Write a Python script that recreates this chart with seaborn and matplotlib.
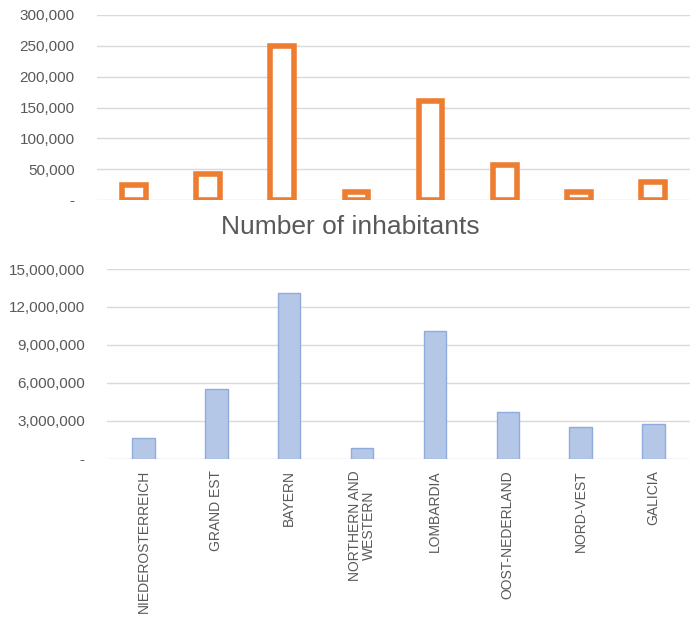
import matplotlib
matplotlib.use("Agg")
import matplotlib.pyplot as plt
import matplotlib.ticker as mticker
import seaborn as sns
import pandas as pd

regions = ["NIEDEROSTERREICH", "GRAND EST", "BAYERN", "NORTHERN AND\nWESTERN",
           "LOMBARDIA", "OOST-NEDERLAND", "NORD-VEST", "GALICIA"]
top_values = [25000, 42000, 250000, 13000, 160000, 56000, 13000, 30000]
inhabitants = [1680000, 5530000, 13080000, 840000, 10100000, 3710000, 2550000, 2790000]

df = pd.DataFrame({"region": regions, "top": top_values, "inhabitants": inhabitants})

sns.set_style("white")
plt.rcParams["font.family"] = ["Liberation Sans", "DejaVu Sans"]
grey = "#595959"


def fmt(v, pos):
    return "-" if v == 0 else f"{int(v):,}"


fig = plt.figure(figsize=(6.92, 6.17), dpi=100)
ax1 = fig.add_axes([97 / 692, 1 - 200 / 617, 593 / 692, 185 / 617])
ax2 = fig.add_axes([107 / 692, 1 - 459 / 617, 583 / 692, 190 / 617])

# top: hollow orange bars
sns.barplot(data=df, x="region", y="top", ax=ax1, width=0.32,
            facecolor="white", edgecolor="#ED7D31", linewidth=4.0)
ax1.set_ylim(0, 300000)
ax1.set_yticks(range(0, 300001, 50000))
ax1.set_xticklabels([])

# bottom: inhabitants
sns.barplot(data=df, x="region", y="inhabitants", ax=ax2, width=0.31,
            color="#B4C7E7", edgecolor="#8FAADC", linewidth=1, saturation=1)
ax2.set_ylim(0, 15000000)
ax2.set_yticks(range(0, 15000001, 3000000))
ax2.set_xticks(range(len(regions)))
ax2.set_xticklabels(regions, rotation=90, va="top", ha="center", linespacing=1.0)

for ax in (ax1, ax2):
    ax.set_xlim(-0.5, len(regions) - 0.5)
    ax.yaxis.set_major_formatter(mticker.FuncFormatter(fmt))
    ax.set_xlabel("")
    ax.set_ylabel("")
    ax.grid(axis="y", color="#D9D9D9", linewidth=1)
    ax.set_axisbelow(True)
    ax.tick_params(axis="y", length=0, labelsize=11, colors=grey, pad=16)
    ax.tick_params(axis="x", length=0, labelsize=10, colors=grey, pad=8)
    for s in ax.spines.values():
        s.set_visible(False)

fig.text(350 / 692, 1 - 227 / 617, "Number of inhabitants", ha="center",
         va="center", fontsize=19, color=grey)

fig.savefig("out.png", dpi=100, facecolor="white")
